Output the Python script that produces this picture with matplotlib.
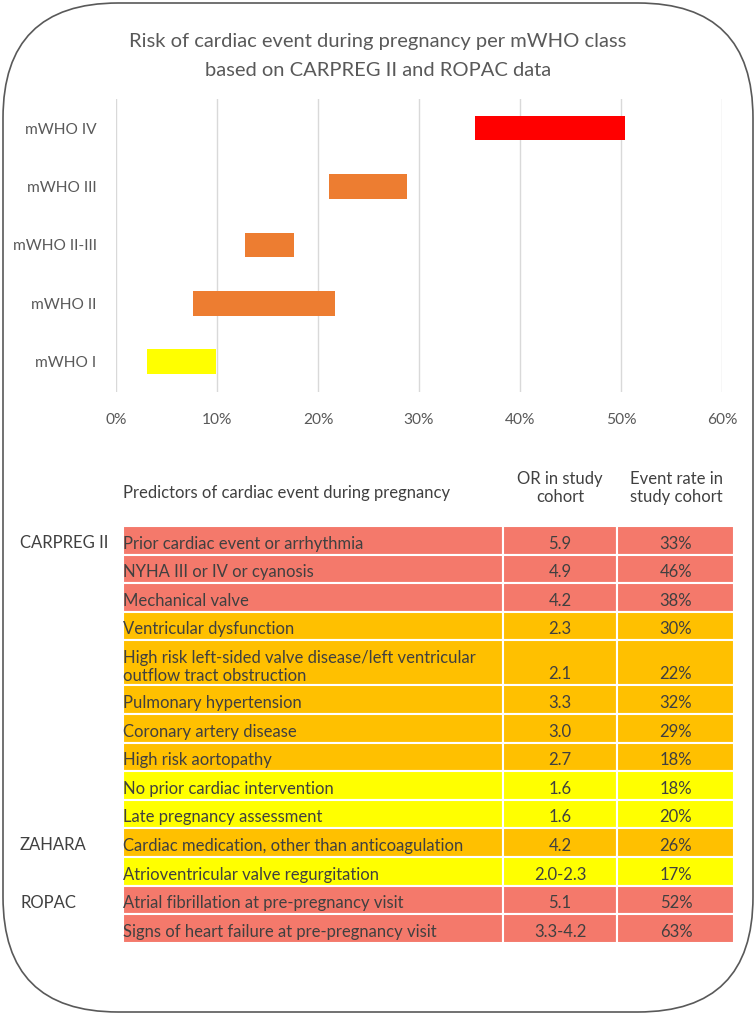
import matplotlib.pyplot as plt
from matplotlib.patches import FancyBboxPatch, Rectangle

plt.rcParams['font.family'] = ['Lato', 'DejaVu Sans']

# chart data: risk range (%) per mWHO class
classes = ["mWHO I", "mWHO II", "mWHO II-III", "mWHO III", "mWHO IV"]
risk_low = [3.1, 7.6, 12.8, 21.1, 35.5]
risk_high = [9.9, 21.7, 17.6, 28.8, 50.4]
bar_colors = ["#FFFF00", "#ED7D31", "#ED7D31", "#ED7D31", "#FF0000"]
x_ticks = [0, 10, 20, 30, 40, 50, 60]

# table data
predictors = [
    "Prior cardiac event or arrhythmia",
    "NYHA III or IV or cyanosis",
    "Mechanical valve",
    "Ventricular dysfunction",
    "High risk left-sided valve disease/left ventricular\noutflow tract obstruction",
    "Pulmonary hypertension",
    "Coronary artery disease",
    "High risk aortopathy",
    "No prior cardiac intervention",
    "Late pregnancy assessment",
    "Cardiac medication, other than anticoagulation",
    "Atrioventricular valve regurgitation",
    "Atrial fibrillation at pre-pregnancy visit",
    "Signs of heart failure at pre-pregnancy visit",
]
odds_ratio = ["5.9", "4.9", "4.2", "2.3", "2.1", "3.3", "3.0", "2.7",
              "1.6", "1.6", "4.2", "2.0-2.3", "5.1", "3.3-4.2"]
event_rate = ["33%", "46%", "38%", "30%", "22%", "32%", "29%", "18%",
              "18%", "20%", "26%", "17%", "52%", "63%"]
risk_level = ["high", "high", "high", "mid", "mid", "mid", "mid", "mid",
              "low", "low", "mid", "low", "high", "high"]
studies = {"CARPREG II": 0, "ZAHARA": 10, "ROPAC": 12}
level_colors = {"high": "#F4796B", "mid": "#FFC000", "low": "#FFFF00"}

W, H = 756, 1014
fig = plt.figure(figsize=(W / 100, H / 100), dpi=100)

# pixel overlay for frame, title and table
bg = fig.add_axes([0, 0, 1, 1])
bg.set_xlim(0, W)
bg.set_ylim(H, 0)
bg.axis('off')
frame = FancyBboxPatch((3, 3), W - 6, H - 5, boxstyle="round,pad=0,rounding_size=115",
                       fc='white', ec='#595959', lw=1.2, zorder=0)
bg.add_patch(frame)

bg.text(378, 42, "Risk of cardiac event during pregnancy per mWHO class",
        ha='center', va='center', fontsize=14.5, color='#595959')
bg.text(378, 70, "based on CARPREG II and ROPAC data",
        ha='center', va='center', fontsize=14.5, color='#595959')

# bar chart
ax = fig.add_axes([116 / W, 1 - 392 / H, (722 - 116) / W, (392 - 99) / H])
ypos = list(range(len(classes)))
widths = [h - l for l, h in zip(risk_low, risk_high)]
ax.barh(ypos, widths, left=risk_low, height=0.42, color=bar_colors, zorder=3)
ax.set_xlim(0, 60)
ax.set_ylim(-0.52, 4.5)
ax.set_xticks(x_ticks)
ax.set_xticklabels([f"{t}%" for t in x_ticks])
ax.set_yticks(ypos)
ax.set_yticklabels(classes)
ax.grid(axis='x', color='#D9D9D9', lw=1, zorder=0)
ax.tick_params(length=0, labelsize=11.2, labelcolor='#595959')
ax.tick_params(axis='x', pad=15)
ax.tick_params(axis='y', pad=14)
for s in ax.spines.values():
    s.set_visible(False)
ax.patch.set_alpha(0)

# table
col_x = [123, 503, 617, 734]
top = 526
single_h = 28.6
double_h = 45
txt_color = '#404040'
fs = 12

bg.text(123, 493, "Predictors of cardiac event during pregnancy",
        ha='left', va='center', fontsize=fs, color=txt_color)
bg.text(560, 488, "OR in study\ncohort", ha='center', va='center',
        fontsize=fs, color=txt_color, linespacing=1.2)
bg.text(676, 488, "Event rate in\nstudy cohort", ha='center', va='center',
        fontsize=fs, color=txt_color, linespacing=1.2)

y = top
row_tops = []
for i, name in enumerate(predictors):
    h = double_h if "\n" in name else single_h
    row_tops.append(y)
    c = level_colors[risk_level[i]]
    for j in range(3):
        bg.add_patch(Rectangle((col_x[j], y), col_x[j + 1] - col_x[j], h,
                               fc=c, ec='white', lw=1.5, zorder=2))
    ty = y + h - 11
    if "\n" in name:
        bg.text(123, ty + 10, name, ha='left', va='bottom', fontsize=fs,
                color=txt_color, linespacing=1.2, zorder=3)
    else:
        bg.text(123, ty, name, ha='left', va='center', fontsize=fs,
                color=txt_color, zorder=3)
    bg.text(560, ty, odds_ratio[i], ha='center', va='center', fontsize=fs,
            color=txt_color, zorder=3)
    bg.text(676, ty, event_rate[i], ha='center', va='center', fontsize=fs,
            color=txt_color, zorder=3)
    y += h

for study, idx in studies.items():
    bg.text(20, row_tops[idx] + 17, study, ha='left', va='center',
            fontsize=fs, color=txt_color)

fig.savefig("out.png", dpi=100)
